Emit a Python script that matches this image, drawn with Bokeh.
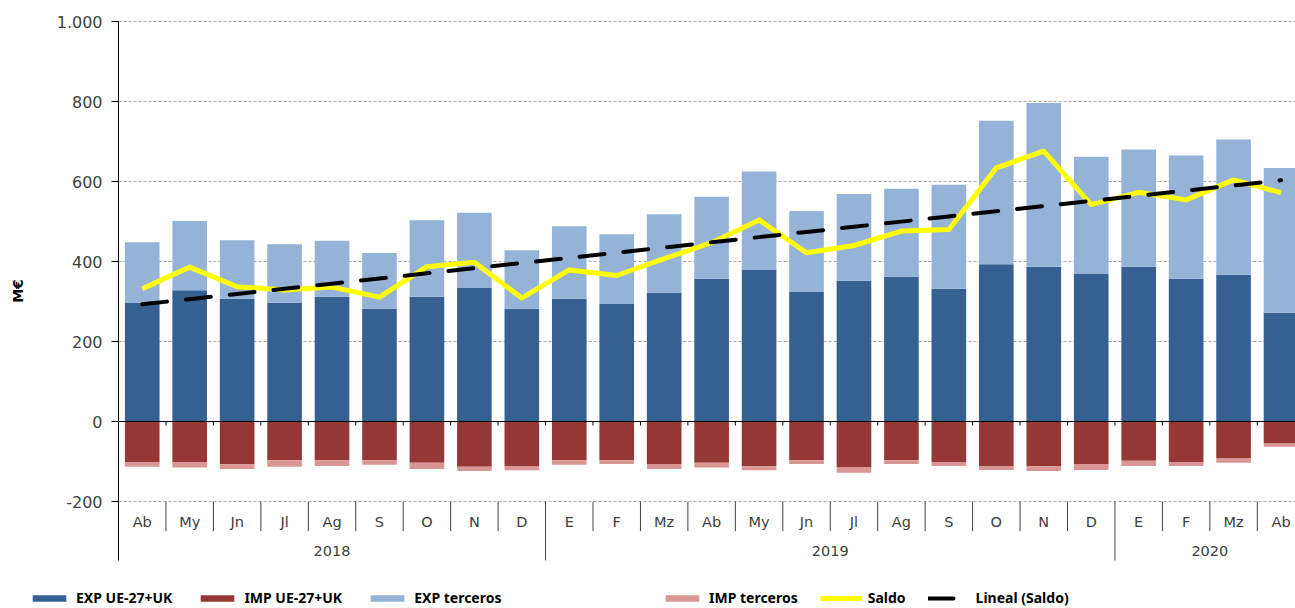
import numpy as np
from bokeh.plotting import figure
from bokeh.models import Range1d, Legend, LegendItem, ColumnDataSource
from bokeh.core.properties import value
from bokeh.embed import file_html
from bokeh.resources import INLINE

months = ["Ab", "My", "Jn", "Jl", "Ag", "S", "O", "N", "D",
          "E", "F", "Mz", "Ab", "My", "Jn", "Jl", "Ag", "S", "O", "N", "D",
          "E", "F", "Mz", "Ab"]
years = ["2018", "2019", "2020"]
year_counts = [9, 12, 4]
y_ticks = [-200, 0, 200, 400, 600, 800, 1000]
y_tick_labels = ["-200", "0", "200", "400", "600", "800", "1.000"]

exp_ue = [296, 328, 307, 297, 312, 282, 312, 334, 282,
          307, 294, 322, 357, 380, 325, 352, 362, 332, 393, 387, 370,
          387, 357, 367, 272]
exp_ter = [152, 173, 146, 146, 140, 139, 191, 188, 146,
           181, 174, 196, 205, 245, 201, 217, 220, 260, 359, 409, 292,
           293, 308, 338, 362]
imp_ue = [-101, -101, -107, -97, -97, -97, -103, -113, -111,
          -97, -97, -106, -103, -112, -97, -114, -97, -101, -111, -112, -106,
          -98, -101, -91, -55]
imp_ter = [-12, -14, -12, -16, -14, -11, -16, -11, -11,
           -11, -9, -13, -12, -10, -9, -14, -9, -10, -10, -12, -15,
           -13, -10, -12, -8]
saldo = [332, 386, 337, 329, 336, 311, 387, 398, 309,
         379, 365, 407, 447, 504, 422, 440, 476, 480, 634, 676, 542,
         573, 554, 604, 572]

C_EXP_UE = "#376092"
C_EXP_TER = "#95B3D7"
C_IMP_UE = "#953735"
C_IMP_TER = "#D99694"
FONT = "DejaVu Sans"

W, H = 1295, 608
AX_LEFT_PX = 118          # pixel position of the value axis
TOP_PX = 21               # pixel position of the 1.000 gridline
PX_X = 47.45              # pixels per category
PX_Y = 0.4                # pixels per M€
Y_TOP = 1000.0
Y_AXIS_LOW = -347.5       # bottom of the value axis / year separators

n = len(months)
x = np.arange(n)
eu = np.array(exp_ue, float)
et = np.array(exp_ter, float)
iu = np.array(imp_ue, float)
it = np.array(imp_ter, float)
sal = np.array(saldo, float)
coef = np.polyfit(x, sal, 1)
trend = np.polyval(coef, x)

x0 = -0.5 - AX_LEFT_PX / PX_X
x1 = x0 + W / PX_X
y1 = Y_TOP + TOP_PX / PX_Y
y0 = y1 - H / PX_Y

src = ColumnDataSource(dict(x=x, eu=eu, eut=eu + et, iu=iu, iut=iu + it,
                            zero=np.zeros(n), sal=sal, trend=trend))

p = figure(width=W, height=H, output_backend="svg", toolbar_location=None,
           x_axis_location=None, y_axis_location=None,
           x_range=Range1d(x0, x1), y_range=Range1d(y0, y1), min_border=0)
p.outline_line_color = None
p.background_fill_color = "white"
p.grid.visible = False

ax_x = -0.5
right_x = x1

# gridlines (dotted)
grid_y = np.array([t for t in y_ticks if t != 0], float)
p.segment(x0=np.full(len(grid_y), ax_x), y0=grid_y, x1=np.full(len(grid_y), right_x),
          y1=grid_y, line_color="#A6A6A6", line_width=1, line_dash="3 2")

# bars
w = 0.73
r_eu = p.vbar(x="x", bottom="zero", top="eu", width=w, source=src,
              fill_color=C_EXP_UE, line_color=None)
r_et = p.vbar(x="x", bottom="eu", top="eut", width=w, source=src,
              fill_color=C_EXP_TER, line_color=None)
r_iu = p.vbar(x="x", bottom="iu", top="zero", width=w, source=src,
              fill_color=C_IMP_UE, line_color=None)
r_it = p.vbar(x="x", bottom="iut", top="iu", width=w, source=src,
              fill_color=C_IMP_TER, line_color=None)

# zero axis line
p.segment(x0=[ax_x], y0=[0], x1=[right_x], y1=[0], line_color="black", line_width=1)

# value axis: line, ticks, labels, title
p.segment(x0=[ax_x], y0=[Y_AXIS_LOW], x1=[ax_x], y1=[Y_TOP], line_color="black", line_width=1)
yt = np.array(y_ticks, float)
p.segment(x0=np.full(len(yt), ax_x - 7 / PX_X), y0=yt, x1=np.full(len(yt), ax_x), y1=yt,
          line_color="black", line_width=1)
p.text(x=np.full(len(yt), ax_x), y=yt, text=y_tick_labels, x_offset=-16,
       text_font=value(FONT), text_font_size="16px", text_align="right",
       text_baseline="middle", text_color="#404040")
p.text(x=[ax_x - 101 / PX_X], y=[(Y_TOP + Y_AXIS_LOW) / 2], text=["M€"], angle=np.pi / 2,
       text_font=value(FONT), text_font_size="14px", text_font_style="bold",
       text_align="center", text_baseline="middle", text_color="black")

# category boundary ticks on the zero line and separators below the plot
bounds_x = x[1:] - 0.5
p.segment(x0=bounds_x, y0=np.zeros(len(bounds_x)), x1=bounds_x,
          y1=np.full(len(bounds_x), -10.0), line_color="black", line_width=1)
p.segment(x0=bounds_x, y0=np.full(len(bounds_x), -200.0), x1=bounds_x,
          y1=np.full(len(bounds_x), -274.0), line_color="#404040", line_width=1)
ystart = np.cumsum([0] + year_counts)
ysep = ystart[1:-1] - 0.5
p.segment(x0=ysep, y0=np.full(len(ysep), -274.0), x1=ysep,
          y1=np.full(len(ysep), Y_AXIS_LOW), line_color="#404040", line_width=1)

# category labels
p.text(x=x, y=np.full(n, -250.0), text=months, text_font=value(FONT),
       text_font_size="14.5px", text_align="center", text_baseline="middle",
       text_color="#404040")
ycent = (ystart[:-1] + ystart[1:] - 1) / 2.0
p.text(x=ycent, y=np.full(len(years), -322.5), text=years, text_font=value(FONT),
       text_font_size="14.5px", text_align="center", text_baseline="middle",
       text_color="#404040")

# lines
r_sal = p.line(x="x", y="sal", source=src, line_color="#FFFF00", line_width=5,
               line_join="round")
r_tr = p.line(x="x", y="trend", source=src, line_color="black", line_width=4,
              line_dash="25 19", line_cap="round")

def mk_legend(items, loc, spacing):
    return Legend(items=items, location=loc, orientation="horizontal",
                  glyph_width=42, glyph_height=8, label_standoff=6, spacing=spacing,
                  padding=0, margin=0, border_line_color=None,
                  background_fill_alpha=0, label_text_font="Noto Sans",
                  label_text_font_style="bold", label_text_font_size="14px",
                  label_text_color="black", label_height=14)

lg1 = mk_legend([LegendItem(label="EXP UE-27+UK", renderers=[r_eu]),
                 LegendItem(label="IMP UE-27+UK", renderers=[r_iu]),
                 LegendItem(label="EXP terceros", renderers=[r_et])], (28, 1), 24)
lg2 = mk_legend([LegendItem(label="IMP terceros", renderers=[r_it]),
                 LegendItem(label="Saldo", renderers=[r_sal]),
                 LegendItem(label="Lineal (Saldo)", renderers=[r_tr])], (661, 1), 22)
p.add_layout(lg1)
p.add_layout(lg2)

open("out.html", "w").write(file_html(p, INLINE))
